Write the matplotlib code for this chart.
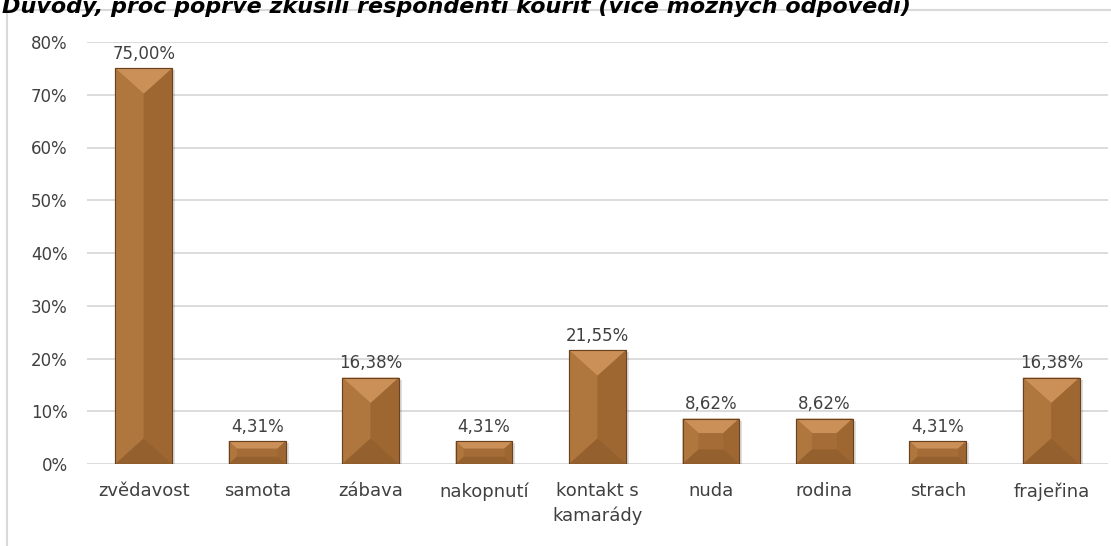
import matplotlib
matplotlib.use("Agg")
import matplotlib.pyplot as plt
from matplotlib.patches import Polygon, Rectangle

# data
kategorie = ['zvědavost', 'samota', 'zábava', 'nakopnutí', 'kontakt s\nkamarády',
             'nuda', 'rodina', 'strach', 'frajeřina']
hodnoty = [75.00, 4.31, 16.38, 4.31, 21.55, 8.62, 8.62, 4.31, 16.38]
titulek = 'Důvody, proč poprvé zkusili respondenti kouřit (více možných odpovědí)'

W, H = 1111, 546
fig = plt.figure(figsize=(W / 100, H / 100), dpi=100)
plt.rcParams['font.family'] = ['DejaVu Sans']
text_color = '#404040'

# ramecek grafu (oriznuty vpravo a dole)
fig.patches.append(Rectangle((7 / W, -0.1), 1.2, 1.1 - 10 / H, transform=fig.transFigure,
                             fill=False, edgecolor='#D9D9D9', linewidth=1.5))

fig.text(2 / W, 1 - 13 / H, titulek, fontsize=16, fontweight='bold', style='italic',
         ha='left', va='baseline', color='black')

left, right, bottom, top = 87, 1108, 464, 42
ax = fig.add_axes([left / W, 1 - bottom / H, (right - left) / W, (bottom - top) / H])
x = range(len(kategorie))
bars = ax.bar(x, hodnoty, width=0.5, color='#A56C37', edgecolor='#6B4220', linewidth=0.8, zorder=3)

ax.set_ylim(0, 80)
ax.set_xlim(-0.5, len(kategorie) - 0.5)
ax.set_yticks(range(0, 81, 10))
ax.set_yticklabels([f'{v}%' for v in range(0, 81, 10)])
ax.set_xticks(list(x))
ax.set_xticklabels(kategorie, linespacing=1.45)
ax.tick_params(length=0, labelsize=12, colors=text_color)
ax.tick_params(axis='x', labelsize=13, pad=13)
ax.tick_params(axis='y', pad=14)
ax.grid(axis='y', color='#D9D9D9', linewidth=1.3, zorder=0)
for s in ax.spines.values():
    s.set_visible(False)

# zkoseni hran - kresleno v pixelech, aby drzelo tvar
inv = ax.transData.inverted()
barvy = {'top': '#CB9058', 'left': '#AF763E', 'right': '#9E6732', 'bottom': '#93602E'}
for b in bars:
    x0, y0 = ax.transData.transform((b.get_x(), 0))
    x1, y1 = ax.transData.transform((b.get_x() + b.get_width(), b.get_height()))
    w, h = x1 - x0, y1 - y0
    dx = min(w / 2, h * 0.35)
    dy = min(w * 0.45, h * 0.32)
    pts = {
        'top': [(x0, y1), (x1, y1), (x1 - dx, y1 - dy), (x0 + dx, y1 - dy)],
        'left': [(x0, y1), (x0 + dx, y1 - dy), (x0 + dx, y0 + dy), (x0, y0)],
        'right': [(x1, y1), (x1, y0), (x1 - dx, y0 + dy), (x1 - dx, y1 - dy)],
        'bottom': [(x0, y0), (x0 + dx, y0 + dy), (x1 - dx, y0 + dy), (x1, y0)],
    }
    # jemny stin
    ax.add_patch(Polygon(inv.transform([(x0 + 2, y0), (x1 + 3, y0), (x1 + 3, y1 - 2), (x0 + 2, y1 - 2)]),
                         closed=True, facecolor='#000000', alpha=0.12, edgecolor='none', zorder=2.9))
    for k, p in pts.items():
        ax.add_patch(Polygon(inv.transform(p), closed=True, facecolor=barvy[k],
                             edgecolor='none', zorder=3.5))
    ax.add_patch(Rectangle((b.get_x(), 0), b.get_width(), b.get_height(), fill=False,
                           edgecolor='#6B4220', linewidth=0.8, zorder=4))

for xi, v in zip(x, hodnoty):
    ax.annotate(f'{v:.2f}%'.replace('.', ','), (xi, v), xytext=(0, 4),
                textcoords='offset points', ha='center', va='bottom',
                fontsize=12, color=text_color, zorder=5)

fig.savefig('out.png', dpi=100)
